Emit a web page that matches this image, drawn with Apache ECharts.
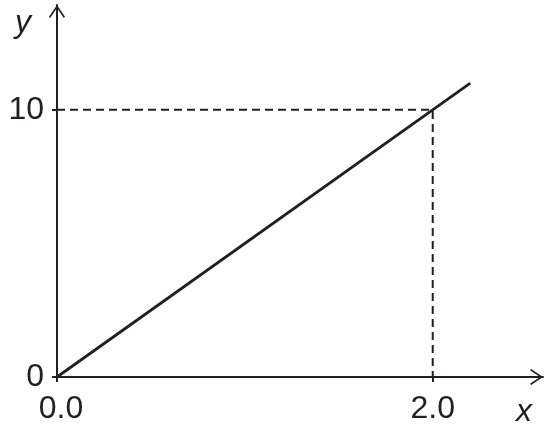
<!DOCTYPE html>
<html>
<head>
<meta charset="utf-8">
<script src="https://cdn.jsdelivr.net/npm/echarts@6/dist/echarts.min.js"></script>
<style>
html,body{margin:0;padding:0;background:#fff;}
#c{width:550px;height:425px;}
</style>
</head>
<body>
<div id="c"></div>
<script>
// Data
var lineX = [0, 2.2];
var lineY = [0, 11];
var guideX = [0, 2.0, 2.0];
var guideY = [10, 10, 0];
var xTicks = [0, 2.0];
var yTicks = [0, 10];
var xMax = 2.587;
var yMax = 13.92;

var ink = '#231f20';
var font = '"Liberation Sans", Arial, sans-serif';
var chevron = 'path://M8,0 L16,11.8 L14.8,13 L8,3 L1.2,13 L0,11.8 Z';

var chart = echarts.init(document.getElementById('c'));
chart.setOption({
  animation: false,
  backgroundColor: '#fff',
  grid: { left: 57, right: 7, top: 5, bottom: 47.3, containLabel: false },
  xAxis: {
    type: 'value', min: 0, max: xMax,
    splitLine: { show: false },
    axisLine: { show: true, onZero: false, symbol: ['none', chevron], symbolSize: [16, 13], symbolOffset: [0, -6.5],
      lineStyle: { color: ink, width: 2 } },
    axisTick: { show: true, inside: false, length: 5, customValues: xTicks, lineStyle: { color: ink, width: 2 } },
    axisLabel: { show: true, customValues: xTicks, margin: 16, fontSize: 32, fontFamily: font, color: ink,
      formatter: function (v) { return v === 0 ? '{a|' + v.toFixed(1) + '}' : v.toFixed(1); },
      rich: { a: { fontSize: 32, fontFamily: font, color: ink, padding: [0, 0, 0, 8] } } }
  },
  yAxis: {
    type: 'value', min: 0, max: yMax,
    splitLine: { show: false },
    axisLine: { show: true, onZero: false, symbol: ['none', chevron], symbolSize: [16, 13], symbolOffset: [0, -6.5],
      lineStyle: { color: ink, width: 2 } },
    axisTick: { show: true, inside: false, length: 5, customValues: yTicks, lineStyle: { color: ink, width: 2 } },
    axisLabel: { show: true, customValues: yTicks, margin: 13, fontSize: 32, fontFamily: font, color: ink,
      formatter: function (v) { return String(v); } }
  },
  series: [
    {
      type: 'line', symbol: 'none', silent: true,
      data: guideX.map(function (x, i) { return [x, guideY[i]]; }),
      lineStyle: { color: ink, width: 2, type: [8, 5] }
    },
    {
      type: 'line', symbol: 'none', silent: true,
      data: lineX.map(function (x, i) { return [x, lineY[i]]; }),
      lineStyle: { color: ink, width: 2.8 }
    }
  ],
  graphic: [
    { type: 'text', x: 23, y: 23, style: { text: 'y', font: 'italic 32px ' + font, fill: ink, align: 'center', verticalAlign: 'middle' } },
    { type: 'text', x: 524, y: 412, style: { text: 'x', font: 'italic 32px ' + font, fill: ink, align: 'center', verticalAlign: 'middle' } }
  ]
});
</script>
</body>
</html>
